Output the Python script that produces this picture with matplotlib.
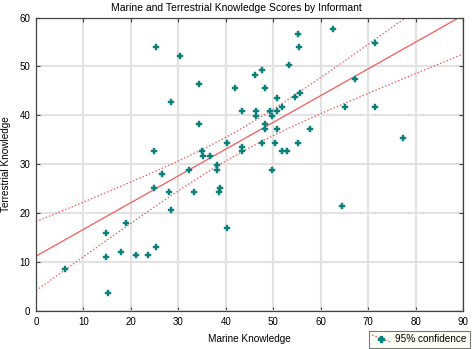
import numpy as np
import matplotlib
matplotlib.use("Agg")
import matplotlib.pyplot as plt
from matplotlib.lines import Line2D
from matplotlib.legend_handler import HandlerBase

plt.rcParams['font.family'] = ['Liberation Sans', 'DejaVu Sans']

# scores (one point per informant)
marine = [25.3, 30.3, 34.4, 41.9, 28.5, 43.4, 34.4, 24.9, 34.9, 35.3,
          36.6, 40.3, 43.4, 43.4, 38.1, 38.2, 32.2, 26.5, 24.8, 28.0,
          33.2, 38.7, 38.6, 28.5, 40.3, 19.0, 14.8, 25.2, 18.0, 21.0,
          23.7, 14.8, 6.2, 15.2, 55.2, 62.5, 55.5, 71.5, 53.4, 46.1,
          47.7, 48.3, 67.2, 46.4, 46.4, 49.3, 49.8, 50.8, 50.9, 51.9,
          54.6, 55.6, 65.1, 71.5, 48.3, 48.3, 50.9, 57.7, 47.6, 50.3,
          55.2, 51.9, 53.0, 77.3, 49.7, 64.6]
terrestrial = [53.9, 52.1, 46.5, 45.5, 42.7, 40.9, 38.2, 32.7, 32.7, 31.7,
               31.7, 34.4, 33.5, 32.7, 29.9, 28.9, 28.9, 28.1, 25.2, 24.3,
               24.3, 25.2, 24.3, 20.6, 16.9, 17.9, 16.0, 13.1, 12.1, 11.4,
               11.4, 11.0, 8.6, 3.6, 56.7, 57.7, 53.9, 54.7, 50.3, 48.3,
               49.3, 45.5, 47.4, 40.9, 39.9, 40.8, 39.9, 43.6, 40.9, 41.8,
               43.8, 44.6, 41.8, 41.8, 38.2, 37.2, 37.2, 37.2, 34.4, 34.4,
               34.4, 32.7, 32.7, 35.4, 28.9, 21.4]

x_ticks = [0, 10, 20, 30, 40, 50, 60, 70, 80, 90]
y_ticks = [0, 10, 20, 30, 40, 50, 60]

x = np.array(marine)
y = np.array(terrestrial)

# linear fit with 95% confidence band for the mean
slope, intercept = np.polyfit(x, y, 1)
n = len(x)
resid = y - (slope * x + intercept)
s = np.sqrt(np.sum(resid ** 2) / (n - 2))
t_crit = 1.998
xs = np.linspace(0, 90, 200)
fit = slope * xs + intercept
half = t_crit * s * np.sqrt(1.0 / n + (xs - x.mean()) ** 2 / np.sum((x - x.mean()) ** 2))

teal = '#0b7f7a'
red = '#f45a5a'
dots = (0, (1.2, 1.6))

fig = plt.figure(figsize=(4.72, 3.49), dpi=100)
ax = fig.add_axes([36 / 472, 1 - 311 / 349, 427 / 472, 293.5 / 349])

ax.plot(xs, fit, color=red, lw=0.9, zorder=2)
ax.plot(xs, fit + half, color=red, lw=0.9, ls=dots, zorder=2)
ax.plot(xs, fit - half, color=red, lw=0.9, ls=dots, zorder=2)
ax.plot(x, y, ls='none', marker='P', ms=3.9, color=teal, mec=teal, mew=0.3, zorder=3)

ax.set_xlim(0, 90)
ax.set_ylim(0, 60)
ax.set_xticks(x_ticks)
ax.set_yticks(y_ticks)
ax.grid(True, color='#e2e2e2', lw=1.5)
ax.set_axisbelow(True)
ax.tick_params(direction='in', length=3, width=0.8, color='#444444',
               top=True, right=True, labelsize=7, pad=4)
for sp in ax.spines.values():
    sp.set_color('#444444')
    sp.set_linewidth(0.9)

ax.set_xlabel('Marine Knowledge', fontsize=7.2, labelpad=5)
ax.set_ylabel('Terrestrial Knowledge', fontsize=7.2, labelpad=6)
fig.text(0.5, 0.977, 'Marine and Terrestrial Knowledge Scores by Informant',
         ha='center', va='center', fontsize=7.5)


class DiagHandler(HandlerBase):
    def create_artists(self, legend, orig, xd, yd, w, h, fs, trans):
        line = Line2D([xd, xd + w], [yd + h, yd], color=red, lw=0.9,
                      ls=dots, transform=trans)
        mk = Line2D([xd + w / 2], [yd + h / 2], ls='none', marker='P', ms=3.9,
                    color=teal, transform=trans)
        return [line, mk]


proxy = Line2D([], [])
leg = fig.legend([proxy], ['95% confidence'], handler_map={proxy: DiagHandler()},
                 loc='lower right', bbox_to_anchor=(470 / 472, 1.5 / 349),
                 fontsize=7.2, frameon=True, fancybox=False, handlelength=1.8,
                 handletextpad=0.5, borderpad=0.35, borderaxespad=0)
leg.get_frame().set_facecolor('#fffff4')
leg.get_frame().set_edgecolor('#555555')
leg.get_frame().set_linewidth(0.8)

fig.savefig('out.png', dpi=100)
